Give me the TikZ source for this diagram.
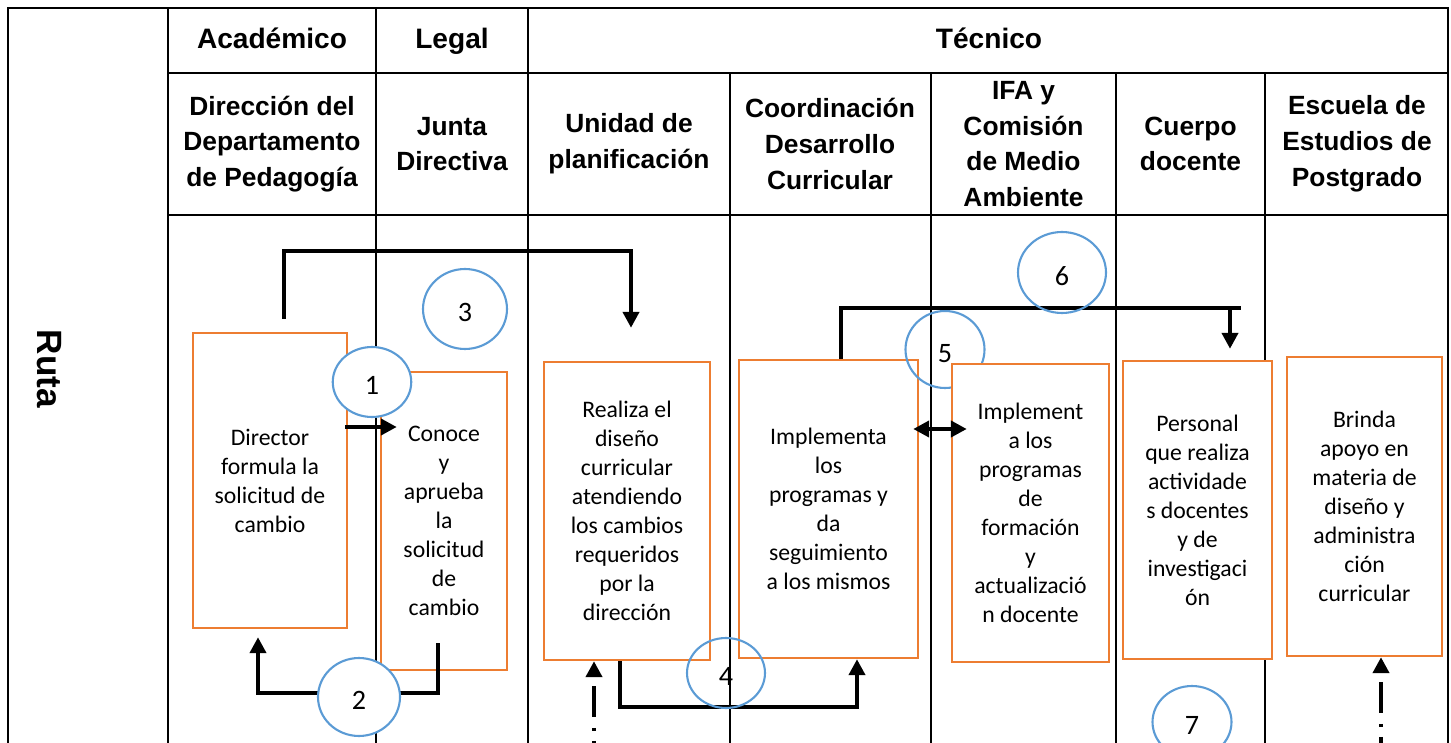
\documentclass[tikz,border=0pt]{standalone}
\usepackage{fontspec}
\setmainfont{Carlito}
\newfontfamily\headfont{Liberation Sans}
\usetikzlibrary{arrows.meta,calc,shapes.geometric}
\definecolor{naranja}{HTML}{ED7D31}
\definecolor{azul}{HTML}{5B9BD5}
\tikzset{
  rule/.style={line width=1.2pt},
  cab/.style={align=center, inner sep=0pt, font=\headfont\bfseries\fontsize{15}{20.4}\selectfont},
  cabtop/.style={cab, text height=13pt, text depth=3.5pt, font=\headfont\bfseries\fontsize{16}{19}\selectfont},
  paso/.style={draw=naranja, fill=white, line width=1.4pt, align=center, inner sep=0pt,
    font=\fontsize{13.5}{16.5}\selectfont},
  num/.style={ellipse, draw=azul, line width=1.2pt, inner sep=0pt, text height=14.5pt,
    font=\fontsize{16}{19}\selectfont},
  flujo/.style={line width=2.4pt, -{Triangle[length=9pt,width=9pt]}},
  doble/.style={line width=2.4pt, {Triangle[length=9pt,width=9pt]}-{Triangle[length=9pt,width=9pt]}},
  punteada/.style={line width=2.4pt, {Triangle[length=9pt,width=9pt]}-,
    dash pattern=on 17.6pt off 6.2pt on 1.7pt off 5.7pt, dash phase=25.5pt},
}
\begin{document}
\begin{tikzpicture}[x=0.02cm, y=-0.02cm]
  \useasboundingbox (0,0) rectangle (1451,743);
  \clip (0,0) rectangle (1451,743);
  % tabla
  \draw[rule] (8,760) -- (8,8) -- (1448,8) -- (1448,760);
  \foreach \x in {168,376,528} \draw[rule] (\x,8) -- (\x,760);
  \foreach \x in {730,931,1116,1265} \draw[rule] (\x,73) -- (\x,760);
  \draw[rule] (168,73) -- (1448,73);
  \draw[rule] (168,215) -- (1448,215);
  \node[cabtop] (acad) at (272,40.5) {Académico};
  \node[cabtop] (legal) at (452,40.5) {Legal};
  \node[cabtop] (tecn) at (989,40.5) {Técnico};
  \node[cab] (h1) at (272,144) {Dirección del\\Departamento\\de Pedagogía};
  \node[cab] (h2) at (452,144) {Junta\\Directiva};
  \node[cab] (h3) at (629,144) {Unidad de\\planificación};
  \node[cab] (h4) at (830,144) {Coordinación\\Desarrollo\\Curricular};
  \node[cab] (h5) at (1023.5,144) {IFA y\\Comisión\\de Medio\\Ambiente};
  \node[cab] (h6) at (1190.5,144) {Cuerpo\\docente};
  \node[cab] (h7) at (1357,144) {Escuela de\\Estudios de\\Postgrado};
  \node[cab, rotate=-90, font=\headfont\bfseries\fontsize{20}{24}\selectfont] (ruta) at (49,369) {Ruta};
  % pasos
  \node[paso, minimum width=3.08cm, minimum height=5.90cm] (dir) at (270,480.5)
    {Director\\formula la\\solicitud de\\cambio};
  \node[paso, minimum width=2.52cm, minimum height=5.96cm] (junta) at (444,521)
    {Conoce\\y\\aprueba\\la\\solicitud\\de\\cambio};
  \node[paso, minimum width=3.32cm, minimum height=5.96cm] (plan) at (627,511)
    {Realiza el\\diseño\\curricular\\atendiendo\\los cambios\\requeridos\\por la\\dirección};
  \node[paso, minimum width=3.58cm, minimum height=5.96cm] (coord) at (828.5,509)
    {Implementa\\los\\programas y\\da\\seguimiento\\a los mismos};
  \node[num, minimum width=1.58cm, minimum height=1.54cm] (n5) at (945,349.5) {5};
  \node[paso, minimum width=3.14cm, minimum height=5.96cm] (ifa) at (1030.5,513)
    {Implement\\a los\\programas\\de\\formación\\y\\actualizació\\n docente};
  \node[paso, minimum width=2.98cm, minimum height=5.96cm] (cuerpo) at (1197.5,510)
    {Personal\\que realiza\\actividade\\s docentes\\y de\\investigaci\\ón};
  \node[paso, minimum width=3.10cm, minimum height=5.98cm] (escuela) at (1364.5,506.5)
    {Brinda\\apoyo en\\materia de\\diseño y\\administra\\ción\\curricular};
  % flechas
  \coordinate (a1) at ($(dir.east)+(-3,-53.5)$);
  \draw[flujo] (a1) -- ($(a1 -| junta.west)+(17,0)$);
  \draw[flujo] ($(junta.south)+(-6,-28)$) -- ++(0,50) -| ($(dir.south)+(-12,8)$);
  \draw[flujo] ($(dir.north)+(14,-13)$) -- ++(0,-68) -| ($(plan.north)+(4,-33)$);
  \draw[flujo] ($(plan.south)+(-7,0)$) -- ++(0,46) -| ($(coord.south)+(28.5,0)$);
  \coordinate (a5) at ($(coord.east)+(-6,-80)$);
  \draw[doble] (a5) -- ($(a5 -| ifa.west)+(16,0)$);
  \draw[line width=2.4pt] ($(coord.north)+(12.5,0)$) -- ++(0,-51) coordinate (t6)
    -- ($(t6 -| cuerpo.north)+(43.5,0)$);
  \draw[flujo] ($(t6 -| cuerpo.north)+(32.5,0)$) -- ($(cuerpo.north)+(32.5,-11)$);
  \coordinate (p0) at ($(plan.south)+(-33,120)$);
  \draw[punteada] (p0 |- plan.south) -- (p0);
  \coordinate (e0) at ($(escuela.south)+(16.5,120)$);
  \draw[punteada] (e0 |- escuela.south) -- (e0);
  % numeros
  \node[num, fill=white, minimum width=1.57cm, minimum height=1.40cm] (n1) at (372,382) {1};
  \node[num, fill=white, minimum width=1.64cm, minimum height=1.56cm] (n2) at (359,697) {2};
  \node[num, minimum width=1.68cm, minimum height=1.60cm] (n3) at (465,309) {3};
  \node[num, minimum width=1.56cm, minimum height=1.40cm] (n4) at (726,673) {4};
  \node[num, minimum width=1.76cm, minimum height=1.62cm] (n6) at (1062,272.5) {6};
  \node[num, minimum width=1.58cm, minimum height=1.44cm] (n7) at (1192,722) {7};
\end{tikzpicture}
\end{document}
